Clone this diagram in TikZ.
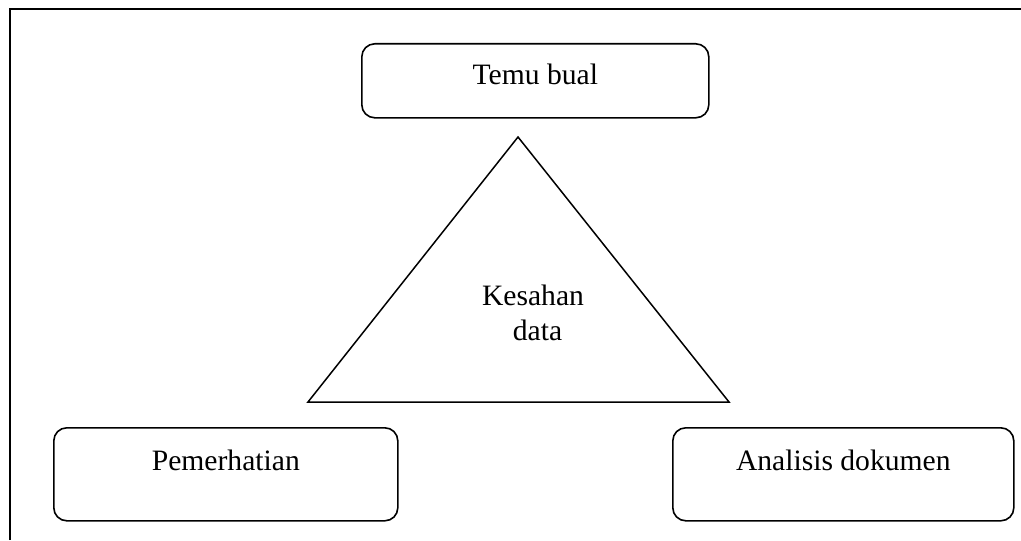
\documentclass[tikz,border=0pt]{standalone}
\usepackage{fontspec}
\setmainfont{Liberation Serif}

\begin{document}
\begin{tikzpicture}[x=0.5pt,y=-0.5pt,
		font=\fontsize{14.8}{17.3}\selectfont,
		box/.style={draw,line width=0.8pt,rounded corners=6.5pt,anchor=north west,
			inner sep=0pt,text height=21.5pt,text depth=25pt},
	]
			\useasboundingbox (0,0) rectangle (1021,540);
			% frame
			\draw[line width=1pt] (10,540) -- (10,9.5) -- (1021,9.5);
			
			\node[box,minimum width=173.5pt,text height=20.5pt,text depth=16.5pt] (temu) at (361,43) {Temu bual};
			\node[box,minimum width=172pt] (pemerhatian) at (53,427) {Pemerhatian};
			\node[box,minimum width=170.5pt] (analisis) at (672,427) {Analisis dokumen};
			
			% triangle
			\coordinate (apex) at (518,137);
			\coordinate (kiri) at (308,402);
			\coordinate (kanan) at (729,402);
			\draw[line width=0.75pt] (apex) -- (kiri) -- (kanan) -- cycle;
			\node[align=center] (kesahan) at (533,313) {Kesahan\\\hspace*{4.5pt}data};
	\end{tikzpicture}
\end{document}
